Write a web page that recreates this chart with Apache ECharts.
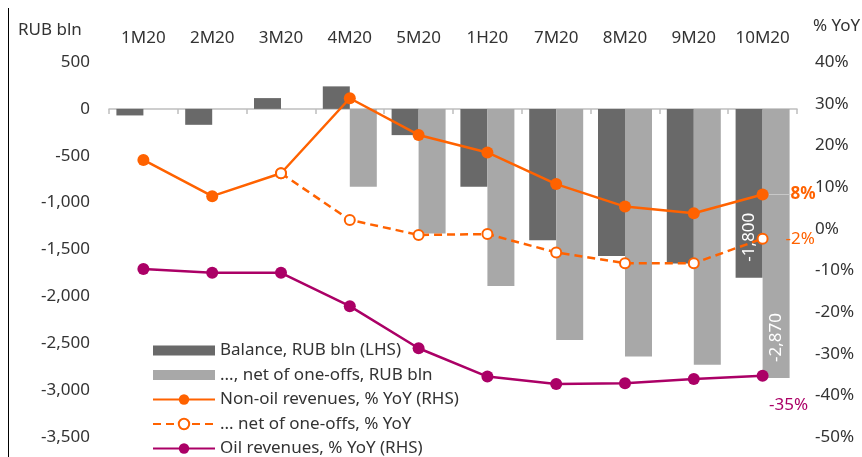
<!DOCTYPE html>
<html>
<head>
<meta charset="utf-8">
<script src="https://cdn.jsdelivr.net/npm/echarts@6/dist/echarts.min.js"></script>
<style>
  html, body { margin: 0; padding: 0; background: #fff; }
  #chart { width: 862px; height: 457px; }
</style>
</head>
<body>
<div id="chart"></div>
<script>
// Periods (cumulative, 2020)
const categories = ['1M20', '2M20', '3M20', '4M20', '5M20', '1H20', '7M20', '8M20', '9M20', '10M20'];

// Federal budget balance, RUB bln (left axis)
const balance = [-70, -170, 115, 240, -280, -830, -1400, -1570, -1650, -1800];
const balanceNetOneOffs = [null, null, null, -830, -1330, -1890, -2465, -2640, -2730, -2870];

// Revenue growth, % YoY (right axis)
const nonOilRevenues = [16.5, 7.8, 13.3, 31.3, 22.5, 18.3, 10.7, 5.3, 3.7, 8.2];
const nonOilNetOneOffs = [null, null, 13.3, 2.1, -1.5, -1.3, -5.7, -8.3, -8.3, -2.4];
const oilRevenues = [-9.7, -10.6, -10.6, -18.6, -28.7, -35.5, -37.3, -37.1, -36.1, -35.3];

// Axis ticks
const leftTicks = { min: -3500, max: 500, interval: 500 };
const rightTicks = { min: -50, max: 40, interval: 10 };

const FONT = 'Noto Sans';
const FS = 17;
const TEXT = '#333333';
const DARK_GREY = '#696969';
const LIGHT_GREY = '#a8a8a8';
const ORANGE = '#ff6200';
const RASPBERRY = '#ab0066';

const fmtThousands = v => {
  const s = Math.abs(Math.round(v)).toString().replace(/\B(?=(\d{3})+(?!\d))/g, ',');
  return (v < 0 ? '-' : '') + s;
};
const last = categories.length - 1;

// Only the final period carries a value label
function withLastLabel(values, label) {
  return values.map((v, i) => (i === last ? { value: v, label: label } : v));
}

// Bar legend icon: 10px bar inside a 13px tall box (degenerate subpaths set the box)
const barIcon = 'path://M0,0L1,0M0,1.5L62,1.5L62,11.5L0,11.5ZM0,13L1,13';

const chart = echarts.init(document.getElementById('chart'));

chart.setOption({
  animation: false,
  textStyle: { fontFamily: FONT },
  grid: {
    left: 109, right: 65, top: 62, bottom: 20,
    containLabel: false,
    outerBoundsMode: 'none'
  },
  legend: {
    orient: 'vertical',
    left: 152,
    top: 342,
    height: 140,
    padding: 0,
    itemWidth: 62,
    itemHeight: 13,
    itemGap: 7.5,
    selectedMode: false,
    textStyle: { fontFamily: FONT, fontSize: FS, color: TEXT, lineHeight: 16 },
    data: [
      { name: 'Balance, RUB bln (LHS)', icon: barIcon },
      { name: '..., net of one-offs, RUB bln', icon: barIcon },
      { name: 'Non-oil revenues, % YoY (RHS)' },
      { name: '... net of one-offs, % YoY' },
      { name: 'Oil revenues, % YoY (RHS)' }
    ]
  },
  xAxis: [
    {
      type: 'category',
      data: categories,
      position: 'bottom',
      axisLine: { onZero: true, onZeroAxisIndex: 0, lineStyle: { color: '#bfbfbf', width: 1.5 } },
      axisTick: { show: true, length: 5, lineStyle: { color: '#bfbfbf', width: 1.5 } },
      axisLabel: { show: false },
      splitLine: { show: false }
    },
    {
      type: 'category',
      data: categories,
      position: 'top',
      axisLine: { show: false },
      axisTick: { show: false },
      axisLabel: { interval: 0, fontFamily: FONT, fontSize: FS, color: TEXT, margin: 15 },
      splitLine: { show: false }
    }
  ],
  yAxis: [
    {
      type: 'value',
      position: 'left',
      min: leftTicks.min, max: leftTicks.max, interval: leftTicks.interval,
      axisLine: { show: false },
      axisTick: { show: false },
      splitLine: { show: false },
      axisLabel: { fontFamily: FONT, fontSize: FS, color: TEXT, margin: 19, formatter: fmtThousands }
    },
    {
      type: 'value',
      position: 'right',
      min: rightTicks.min, max: rightTicks.max, interval: rightTicks.interval,
      axisLine: { show: false },
      axisTick: { show: false },
      splitLine: { show: false },
      axisLabel: { fontFamily: FONT, fontSize: FS, color: TEXT, margin: 18, formatter: v => v + '%' }
    }
  ],
  graphic: [
    {
      type: 'line',
      shape: { x1: 8.5, y1: 8, x2: 8.5, y2: 457 },
      style: { stroke: '#000', lineWidth: 1 },
      silent: true
    },
    {
      type: 'text', left: 18, top: 22,
      style: { text: 'RUB bln', font: FS + 'px "' + FONT + '"', fill: TEXT }
    },
    {
      type: 'text', left: 813, top: 18,
      style: { text: '% YoY', font: FS + 'px "' + FONT + '"', fill: TEXT }
    }
  ],
  series: [
    {
      name: 'Balance, RUB bln (LHS)',
      type: 'bar',
      xAxisIndex: 0, yAxisIndex: 0,
      barWidth: 27,
      barGap: '0%',
      itemStyle: { color: DARK_GREY },
      data: withLastLabel(balance, {
        show: true, position: 'insideBottom', distance: 16, rotate: 90,
        align: 'left', verticalAlign: 'middle',
        color: '#fff', fontFamily: FONT, fontSize: FS,
        formatter: p => fmtThousands(p.value)
      })
    },
    {
      name: '..., net of one-offs, RUB bln',
      type: 'bar',
      xAxisIndex: 0, yAxisIndex: 0,
      barWidth: 27,
      barGap: '0%',
      itemStyle: { color: LIGHT_GREY },
      data: withLastLabel(balanceNetOneOffs, {
        show: true, position: 'insideBottom', distance: 16, rotate: 90,
        align: 'left', verticalAlign: 'middle',
        color: '#fff', fontFamily: FONT, fontSize: FS,
        formatter: p => fmtThousands(p.value)
      })
    },
    {
      name: 'Non-oil revenues, % YoY (RHS)',
      type: 'line',
      xAxisIndex: 0, yAxisIndex: 1,
      symbol: 'circle',
      symbolSize: 12,
      color: ORANGE,
      lineStyle: { color: ORANGE, width: 2.5 },
      itemStyle: { color: ORANGE },
      z: 3,
      labelLayout: { dx: 22 },
      labelLine: { show: true, lineStyle: { color: '#c8c8c8', width: 1 } },
      data: withLastLabel(nonOilRevenues, {
        show: true, position: 'right', distance: 0,
        color: ORANGE, fontFamily: FONT, fontSize: FS, fontWeight: 'bold',
        formatter: p => Math.round(p.value) + '%'
      })
    },
    {
      name: '... net of one-offs, % YoY',
      type: 'line',
      xAxisIndex: 0, yAxisIndex: 1,
      symbol: 'emptyCircle',
      symbolSize: 10,
      color: ORANGE,
      lineStyle: { color: ORANGE, width: 2.5, type: [8, 5] },
      itemStyle: { color: ORANGE, borderWidth: 2.5 },
      z: 4,
      data: withLastLabel(nonOilNetOneOffs, {
        show: true, position: 'right', distance: 17,
        color: ORANGE, fontFamily: FONT, fontSize: FS,
        formatter: p => Math.round(p.value) + '%'
      })
    },
    {
      name: 'Oil revenues, % YoY (RHS)',
      type: 'line',
      xAxisIndex: 0, yAxisIndex: 1,
      symbol: 'circle',
      symbolSize: 12,
      color: RASPBERRY,
      lineStyle: { color: RASPBERRY, width: 2.5 },
      itemStyle: { color: RASPBERRY },
      z: 3,
      data: withLastLabel(oilRevenues, {
        show: true, position: 'inside', offset: [26, 29],
        color: RASPBERRY, fontFamily: FONT, fontSize: FS,
        formatter: p => Math.round(p.value) + '%'
      })
    }
  ]
});
</script>
</body>
</html>
